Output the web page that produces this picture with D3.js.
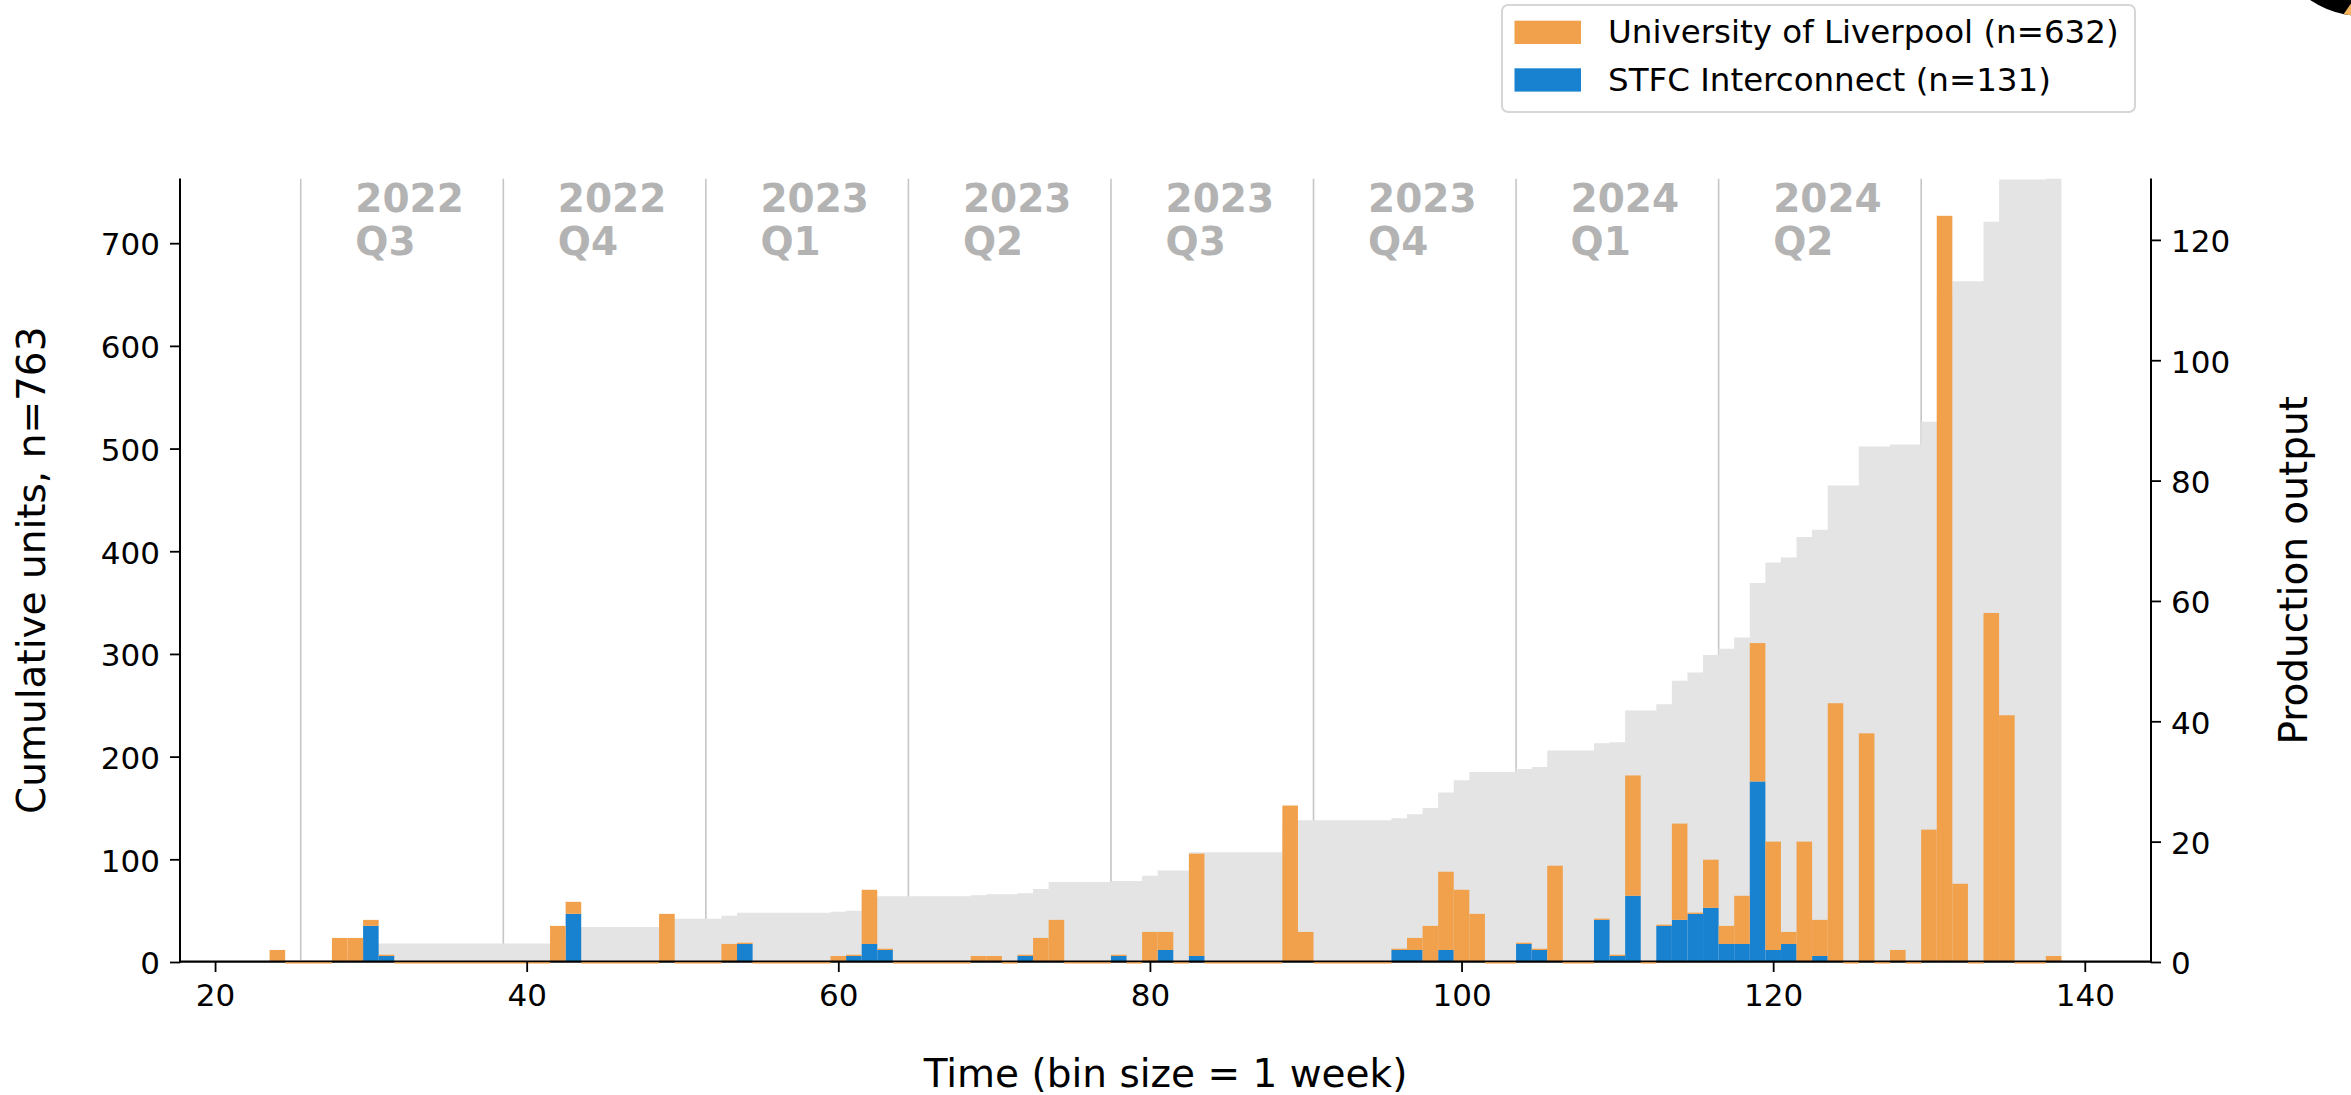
<!DOCTYPE html>
<html>
<head>
<meta charset="utf-8">
<script src="https://cdn.jsdelivr.net/npm/d3@7"></script>
<style>
  html, body { margin: 0; padding: 0; background: #ffffff; }
  svg { display: block; font-family: "DejaVu Sans", sans-serif; }
</style>
</head>
<body>
<svg id="chart" width="2351" height="1095"></svg>
<script>
// Weekly bins, first and last week with output
const weeks = d3.range(24, 139);

// Units produced per week, University of Liverpool (weeks 24..138)
const liverpool = [
  2, 0, 0, 0, 4, 4, 1, 0, 0, 0,
  0, 0, 0, 0, 0, 0, 0, 0, 6, 2,
  0, 0, 0, 0, 0, 8, 0, 0, 0, 3,
  0, 0, 0, 0, 0, 0, 1, 0, 9, 0,
  0, 0, 0, 0, 0, 1, 1, 0, 0, 4,
  7, 0, 0, 0, 0, 0, 5, 3, 0, 17,
  0, 0, 0, 0, 0, 26, 5, 0, 0, 0,
  0, 0, 0, 2, 6, 13, 12, 8, 0, 0,
  0, 0, 16, 0, 0, 0, 0, 20, 0, 0,
  16, 0, 8, 3, 8, 23, 18, 2, 20, 6,
  43, 0, 38, 0, 2, 0, 22, 124, 13, 0,
  58, 41, 0, 0, 1
];

// Units produced per week, STFC Interconnect (weeks 24..138)
const stfc = [
  0, 0, 0, 0, 0, 0, 6, 1, 0, 0,
  0, 0, 0, 0, 0, 0, 0, 0, 0, 8,
  0, 0, 0, 0, 0, 0, 0, 0, 0, 0,
  3, 0, 0, 0, 0, 0, 0, 1, 3, 2,
  0, 0, 0, 0, 0, 0, 0, 0, 1, 0,
  0, 0, 0, 0, 1, 0, 0, 2, 0, 1,
  0, 0, 0, 0, 0, 0, 0, 0, 0, 0,
  0, 0, 2, 2, 0, 2, 0, 0, 0, 0,
  3, 2, 0, 0, 0, 7, 1, 11, 0, 6,
  7, 8, 9, 3, 3, 30, 2, 3, 0, 1,
  0, 0, 0, 0, 0, 0, 0, 0, 0, 0,
  0, 0, 0, 0, 0
];

// Quarter boundaries (in weeks) and their labels
const quarterStarts = [25.5, 38.5, 51.5, 64.5, 77.5, 90.5, 103.5, 116.5, 129.5];
const quarterLabels = [
  ["2022", "Q3"], ["2022", "Q4"], ["2023", "Q1"], ["2023", "Q2"],
  ["2023", "Q3"], ["2023", "Q4"], ["2024", "Q1"], ["2024", "Q2"]
];

// Tick values
const xTicks = [20, 40, 60, 80, 100, 120, 140];
const cumTicks = [0, 100, 200, 300, 400, 500, 600, 700];
const outTicks = [0, 20, 40, 60, 80, 100, 120];

const seriesNames = ["University of Liverpool", "STFC Interconnect"];
const colors = { liverpool: "#F1A04B", stfc: "#1882D0", cum: "#E4E4E4",
                 qline: "#C6C6C6", qtext: "#B3B3B3" };

// ---------------------------------------------------------------------------
const rows = weeks.map((w, i) => ({ week: w, a: stfc[i], b: liverpool[i], total: stfc[i] + liverpool[i] }));
const cumulative = d3.cumsum(rows, d => d.total);
rows.forEach((r, i) => r.cum = cumulative[i]);
const nTotal = d3.sum(rows, d => d.total);
const nLiverpool = d3.sum(liverpool);
const nStfc = d3.sum(stfc);

const plot = { left: 180, right: 2151, top: 178.5, bottom: 962 };
const x = d3.scaleLinear().domain([weeks[0] - 0.5 - 5.75, weeks[weeks.length - 1] + 0.5 + 5.75])
  .range([plot.left, plot.right]);
const yCum = d3.scaleLinear().domain([0, nTotal]).range([plot.bottom, plot.top]);
const yOut = d3.scaleLinear().domain([0, d3.max(rows, d => d.total) * 1.05]).range([plot.bottom, plot.top]);

const svg = d3.select("#chart");
svg.append("rect").attr("width", 2351).attr("height", 1095).attr("fill", "#fff");

svg.append("defs").append("clipPath").attr("id", "plotclip")
  .append("rect").attr("x", plot.left).attr("y", plot.top)
  .attr("width", plot.right - plot.left).attr("height", plot.bottom - plot.top);

const g = svg.append("g").attr("clip-path", "url(#plotclip)");

// Quarter separators
g.selectAll("line.q").data(quarterStarts).join("line")
  .attr("class", "q")
  .attr("x1", d => x(d)).attr("x2", d => x(d))
  .attr("y1", plot.top).attr("y2", plot.bottom)
  .attr("stroke", colors.qline).attr("stroke-width", 1.6);

// Cumulative step area
const stepPts = rows.map(r => ({ x: r.week - 0.5, y: r.cum }));
stepPts.push({ x: rows[rows.length - 1].week + 0.5, y: rows[rows.length - 1].cum });
g.append("path").datum(stepPts)
  .attr("fill", colors.cum)
  .attr("d", d3.area().curve(d3.curveStepAfter)
    .x(d => x(d.x)).y0(yCum(0)).y1(d => yCum(d.y)));

// Weekly bars: STFC at the bottom, Liverpool stacked on top
const bw = x(1) - x(0);
g.selectAll("rect.stfc").data(rows.filter(r => r.a > 0)).join("rect")
  .attr("class", "stfc")
  .attr("x", d => x(d.week - 0.5)).attr("width", bw)
  .attr("y", d => yOut(d.a)).attr("height", d => yOut(0) - yOut(d.a))
  .attr("fill", colors.stfc);
g.selectAll("rect.liv").data(rows.filter(r => r.b > 0)).join("rect")
  .attr("class", "liv")
  .attr("x", d => x(d.week - 0.5)).attr("width", bw)
  .attr("y", d => yOut(d.a + d.b)).attr("height", d => yOut(d.a) - yOut(d.a + d.b))
  .attr("fill", colors.liverpool);
// zero-height Liverpool bins leave a thin edge on top of the stack
g.selectAll("line.livzero").data(rows.filter(r => r.b === 0 && r.a > 0)).join("line")
  .attr("class", "livzero")
  .attr("x1", d => x(d.week - 0.5)).attr("x2", d => x(d.week + 0.5))
  .attr("y1", d => yOut(d.a) - 0.6).attr("y2", d => yOut(d.a) - 0.6)
  .attr("stroke", colors.liverpool).attr("stroke-width", 1.3);

// Spines
const spine = svg.append("g").attr("stroke", "#000").attr("stroke-width", 2);
spine.append("line").attr("x1", plot.left).attr("x2", plot.left).attr("y1", plot.top).attr("y2", plot.bottom + 1);
spine.append("line").attr("x1", plot.right).attr("x2", plot.right).attr("y1", plot.top).attr("y2", plot.bottom + 1);
spine.append("line").attr("x1", plot.left - 1).attr("x2", plot.right + 1).attr("y1", plot.bottom - 0.4).attr("y2", plot.bottom - 0.4)
  .attr("stroke-width", 2.4);

// baseline edges of empty Liverpool bins
svg.selectAll("line.livbase").data(rows.filter(r => r.b === 0 && r.a === 0)).join("line")
  .attr("class", "livbase")
  .attr("x1", d => x(d.week - 0.5)).attr("x2", d => x(d.week + 0.5))
  .attr("y1", plot.bottom + 0.9).attr("y2", plot.bottom + 0.9)
  .attr("stroke", colors.liverpool).attr("stroke-width", 1.3);

// Axes
function styleAxis(sel) {
  sel.select(".domain").remove();
  sel.selectAll(".tick line").attr("stroke", "#000").attr("stroke-width", 1.8);
  sel.selectAll(".tick text").attr("fill", "#000").attr("font-size", 31)
    .attr("font-family", "DejaVu Sans, sans-serif");
}
svg.append("g").attr("transform", `translate(0,${plot.bottom})`)
  .call(d3.axisBottom(x).tickValues(xTicks).tickFormat(d3.format("d")).tickSize(10).tickPadding(12))
  .call(styleAxis);
svg.append("g").attr("transform", `translate(${plot.left},0)`)
  .call(d3.axisLeft(yCum).tickValues(cumTicks).tickFormat(d3.format("d")).tickSize(10).tickPadding(10))
  .call(styleAxis)
  .call(s => s.selectAll(".tick text").attr("dy", "0.38em"));
svg.append("g").attr("transform", `translate(${plot.right},0)`)
  .call(d3.axisRight(yOut).tickValues(outTicks).tickFormat(d3.format("d")).tickSize(10).tickPadding(10))
  .call(styleAxis)
  .call(s => s.selectAll(".tick text").attr("dy", "0.38em"));

// Axis titles
const midY = (plot.top + plot.bottom) / 2;
svg.append("text").attr("transform", `translate(45,${midY}) rotate(-90)`)
  .attr("text-anchor", "middle").attr("font-size", 39).attr("fill", "#000")
  .text(`Cumulative units, n=${nTotal}`);
svg.append("text").attr("transform", `translate(2307,${midY}) rotate(-90)`)
  .attr("text-anchor", "middle").attr("font-size", 39).attr("fill", "#000")
  .text("Production output");
svg.append("text").attr("x", (plot.left + plot.right) / 2).attr("y", 1086.5)
  .attr("text-anchor", "middle").attr("font-size", 39).attr("fill", "#000")
  .text("Time (bin size = 1 week)");

// Quarter labels
const ql = svg.append("g").attr("font-size", 39).attr("font-weight", "bold").attr("fill", colors.qtext);
quarterLabels.forEach((lab, i) => {
  const t = ql.append("text").attr("x", x(quarterStarts[i] + 3.5));
  t.append("tspan").attr("x", x(quarterStarts[i] + 3.5)).attr("y", 212).text(lab[0]);
  t.append("tspan").attr("x", x(quarterStarts[i] + 3.5)).attr("y", 255).text(lab[1]);
});

// Legend
const leg = svg.append("g");
leg.append("rect").attr("x", 1502).attr("y", 5).attr("width", 633).attr("height", 107)
  .attr("rx", 6).attr("fill", "#fff").attr("fill-opacity", 0.9)
  .attr("stroke", "#D6D6D6").attr("stroke-width", 2);
const legItems = [
  { name: seriesNames[0], n: nLiverpool, color: colors.liverpool },
  { name: seriesNames[1], n: nStfc, color: colors.stfc }
];
legItems.forEach((d, i) => {
  leg.append("rect").attr("x", 1514.5).attr("y", 20.7 + i * 47.6)
    .attr("width", 66.5).attr("height", 23.3).attr("fill", d.color);
  leg.append("text").attr("x", 1608).attr("y", 43.3 + i * 47.7)
    .attr("font-size", 32.5).attr("fill", "#000")
    .text(`${d.name} (n=${d.n})`);
});

// Corner emblem (partly outside the canvas)
const emb = svg.append("g");
emb.append("clipPath").attr("id", "embclip")
  .append("circle").attr("cx", 2362).attr("cy", -76).attr("r", 92);
emb.append("circle").attr("cx", 2362).attr("cy", -76).attr("r", 92).attr("fill", "#000");
emb.append("path").attr("clip-path", "url(#embclip)")
  .attr("d", "M2341,18 L2352,2 L2352,20 Z").attr("fill", "#F2B45C");
</script>
</body>
</html>
